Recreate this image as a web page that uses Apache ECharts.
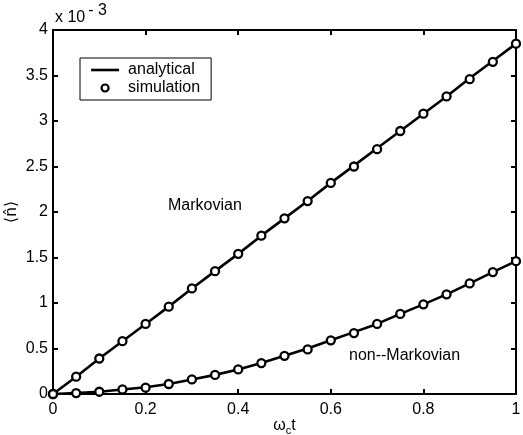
<!DOCTYPE html>
<html>
<head>
<meta charset="utf-8">
<script src="https://cdn.jsdelivr.net/npm/echarts@6/dist/echarts.min.js"></script>
<style>
html,body{margin:0;padding:0;background:#fff;overflow:hidden;}
#chart{width:523px;height:435px;}
</style>
</head>
<body>
<div id="chart"></div>
<script>
// time values (omega_c t)
var tValues = [0,0.05,0.1,0.15,0.2,0.25,0.3,0.35,0.4,0.45,0.5,0.55,0.6,0.65,0.7,0.75,0.8,0.85,0.9,0.95,1.0];
// <n> in units of 1e-3
var markovAnalytical = [0,0.19,0.39,0.58,0.77,0.96,1.16,1.35,1.54,1.74,1.93,2.12,2.32,2.51,2.70,2.89,3.08,3.27,3.47,3.66,3.85];
var markovSimulation = [0,0.19,0.39,0.58,0.77,0.96,1.16,1.35,1.54,1.74,1.93,2.12,2.32,2.50,2.69,2.89,3.08,3.27,3.46,3.65,3.85];
var nonMarkovAnalytical = [0,0.01,0.025,0.05,0.075,0.11,0.16,0.21,0.27,0.34,0.42,0.50,0.59,0.68,0.77,0.88,0.985,1.095,1.215,1.34,1.46];
var nonMarkovSimulation = [0,0.01,0.025,0.05,0.07,0.11,0.16,0.21,0.27,0.34,0.42,0.49,0.59,0.67,0.77,0.88,0.985,1.095,1.215,1.34,1.46];
var xTicks = [0,0.2,0.4,0.6,0.8,1];
var yTicks = [0,0.5,1,1.5,2,2.5,3,3.5,4];

function pairs(xs, ys){ return xs.map(function(x,i){ return [x, ys[i]]; }); }

var FONT = 'Liberation Sans';
var FS = 16;
var chart = echarts.init(document.getElementById('chart'));
var lineStyle = {color:'#000', width:2.6};
var axisCommon = {
  axisLine:{show:true, onZero:false, lineStyle:{color:'#000', width:2}},
  axisTick:{show:true, inside:true, length:5, lineStyle:{color:'#000', width:2}},
  splitLine:{show:false}
};
var markStyle = {color:'#fff', borderColor:'#000', borderWidth:2.3, opacity:1};
chart.setOption({
  animation:false,
  backgroundColor:'#fff',
  grid:{left:53, right:7, top:30, bottom:41, containLabel:false, outerBoundsMode:'none'},
  legend:{
    orient:'vertical', left:80, top:58,
    borderColor:'#000', borderWidth:1, padding:[3,11,3,10],
    itemGap:0, itemWidth:28, itemHeight:12,
    textStyle:{fontFamily:FONT, fontSize:FS, color:'#000', lineHeight:18, padding:[0,0,0,4]},
    data:[
      {name:'analytical', icon:'path://M0,0 L0,0 M0,4.7 L28,4.7 L28,7.3 L0,7.3 Z M28,12 L28,12', itemStyle:{color:'#000', borderWidth:0}},
      {name:'simulation', icon:'path://M0,0 L0,0 M28,12 L28,12 M17.5,6 A3.5,3.5 0 1 1 10.5,6 A3.5,3.5 0 1 1 17.5,6 Z', itemStyle:{color:'#fff', borderColor:'#000', borderWidth:2.2}}
    ],
    backgroundColor:'#fff'
  },
  xAxis:[
    Object.assign({type:'value', min:0, max:1, interval:0.2, position:'bottom',
      name:'{w|ω}{s|c}{w|t}', nameLocation:'middle', nameGap:22, nameMoveOverlap:false,
      nameTextStyle:{rich:{w:{fontFamily:FONT,fontSize:FS,color:'#000'}, s:{fontFamily:FONT,fontSize:11,color:'#000',verticalAlign:'top',padding:[9,0,0,0]}}},
      axisLabel:{fontFamily:FONT, fontSize:FS, color:'#000', margin:8,
        formatter:function(v){ var r=Math.round(v*10)/10; return xTicks.indexOf(r)>=0 ? String(r) : ''; }}
    }, axisCommon),
    Object.assign({type:'value', min:0, max:1, interval:0.2, position:'top', axisLabel:{show:false}}, axisCommon)
  ],
  yAxis:[
    Object.assign({type:'value', min:0, max:4, interval:0.5, position:'left',
      name:'⟨n̂⟩', nameLocation:'middle', nameGap:33, nameRotate:90, nameMoveOverlap:false,
      nameTextStyle:{fontFamily:'DejaVu Sans', fontSize:16, color:'#000'},
      axisLabel:{fontFamily:FONT, fontSize:FS, color:'#000', margin:5,
        formatter:function(v){ var r=Math.round(v*10)/10; return yTicks.indexOf(r)>=0 ? String(r) : ''; }}
    }, axisCommon),
    Object.assign({type:'value', min:0, max:4, interval:0.5, position:'right', axisLabel:{show:false}}, axisCommon)
  ],
  series:[
    {name:'analytical', type:'line', data:pairs(tValues, markovAnalytical), showSymbol:false, symbol:'none', lineStyle:lineStyle, itemStyle:{color:'#000'}, z:2},
    {name:'analytical', type:'line', data:pairs(tValues, nonMarkovAnalytical), showSymbol:false, symbol:'none', lineStyle:lineStyle, itemStyle:{color:'#000'}, z:2},
    {name:'simulation', type:'scatter', data:pairs(tValues, markovSimulation), symbol:'circle', symbolSize:8, itemStyle:markStyle, z:3},
    {name:'simulation', type:'scatter', data:pairs(tValues, nonMarkovSimulation), symbol:'circle', symbolSize:8, itemStyle:markStyle, z:3}
  ],
  graphic:[
    {type:'text', left:55, top:3, style:{text:'{a|x 10}{b|- 3}', rich:{a:{fontFamily:FONT,fontSize:FS,fill:'#000',padding:[7,0,0,0]}, b:{fontFamily:FONT,fontSize:FS,fill:'#000',verticalAlign:'top',padding:[0,0,0,3]}}}},
    {type:'text', left:168, top:198, style:{text:'Markovian', fontFamily:FONT, fontSize:FS, fill:'#000'}},
    {type:'text', left:349, top:348, style:{text:'non--Markovian', fontFamily:FONT, fontSize:FS, fill:'#000'}}
  ]
});
</script>
</body>
</html>
